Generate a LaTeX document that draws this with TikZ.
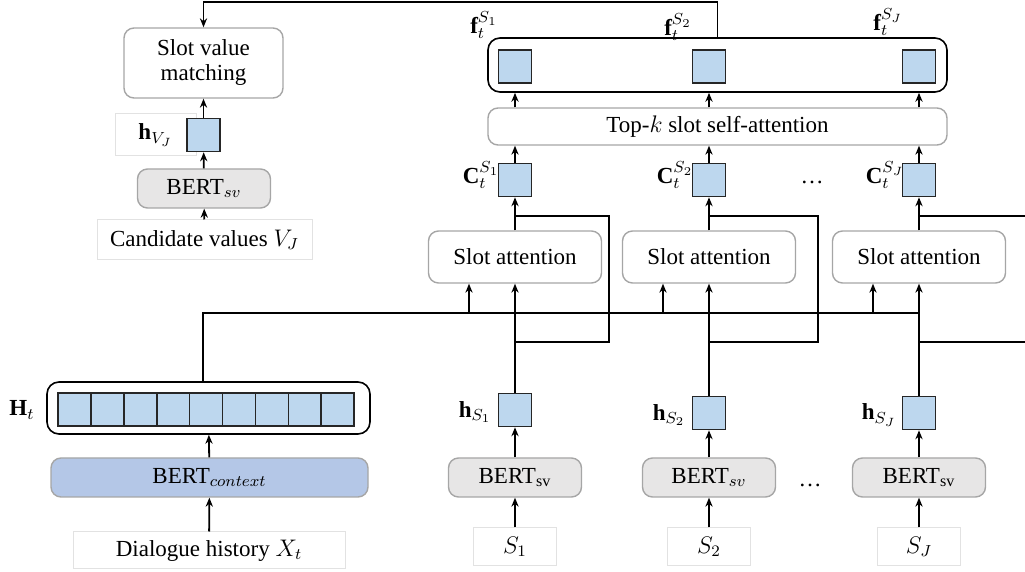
\documentclass[tikz,border=0pt]{standalone}
\usepackage{fontspec}
\setmainfont{Liberation Serif}
\usetikzlibrary{arrows.meta}
\definecolor{cellblue}{HTML}{BDD7EE}
\definecolor{ctxblue}{HTML}{B4C7E7}
\definecolor{svgray}{HTML}{E7E6E6}
\definecolor{edgegray}{HTML}{A6A6A6}
\definecolor{faintgray}{HTML}{E2E2E2}

\begin{document}
\begin{tikzpicture}[x=0.5pt, y=-0.5pt, >={Stealth[length=4.5pt,width=3.6pt]},
		font=\fontsize{11.5}{12.5}\selectfont, line width=0.9pt,
		vec node/.style={draw=black!85, fill=cellblue, minimum size=16.5pt, inner sep=0pt, line width=0.8pt},
		soft node/.style={draw=edgegray, rounded corners=5pt, fill=white, inner sep=0pt, align=center, line width=0.7pt},
		bert node/.style={soft node, fill=svgray, minimum width=66.5pt, minimum height=19.5pt},
		input node/.style={draw=faintgray, line width=0.5pt, inner sep=0pt},
		group node/.style={draw=black, rounded corners=6pt, inner sep=0pt, line width=0.8pt}]

		\useasboundingbox (0,0) rectangle (1025,572);

		% value side
		\node[soft node, minimum width=79.5pt, minimum height=35pt] (svm) at (203.5,63) {Slot value\\matching};
		\node[input node, minimum width=40.5pt, minimum height=21pt] (hvlab) at (155.5,135) {$\mathbf{h}_{V_J}$};
		\node[vec node] (hv) at (203.5,135) {};
		\node[bert node] (bertv) at (204,188.5) {BERT$_{sv}$};
		\node[input node, minimum width=107.5pt, minimum height=20pt] (cand) at (204.5,240) {Candidate values $V_J$};

		% context side
		\node[group node, minimum width=161.5pt, minimum height=26pt] (Hbox) at (208.5,408) {};
		\foreach \i in {0,...,8}
			\node[vec node, minimum width=16.45pt] (cell\i) at ({74.45+32.9*\i},409.5) {};
		\node (Hlab) at (22,410) {$\mathbf{H}_t$};
		\node[soft node, fill=ctxblue, minimum width=158.5pt, minimum height=19.5pt] (bertc) at (209.5,477.5) {BERT$_{context}$};
		\node[input node, minimum width=136pt, minimum height=18.5pt] (dh) at (209,550.5) {Dialogue history $X_t$};

		% slot side
		\node[group node, minimum width=229.5pt, minimum height=27pt] (fbox) at (717.5,65) {};
		\node[soft node, minimum width=229.5pt, minimum height=18.5pt] (sat) at (717.5,126.5) {Top-$k$ slot self-attention};
		\node (dotsc) at (812,182) {\dots};
		\node (dotsb) at (810,485) {\dots};

		\coordinate (top) at (717.5,2);
		\coordinate (bus) at (203,313);

		% last branch runs off the page edge
		\foreach \n/\x/\hy/\bx/\fy/\sv in {1/515/410/609/25/\textsubscript{sv}, 2/709/413/818/27/$_{sv}$, J/919/413/1040/22/\textsubscript{sv}} {
			\node[vec node] (f\n) at (\x,66.5) {};
			\node (flab\n) at ({\x-31},\fy) {$\mathbf{f}_t^{S_{\n}}$};
			\node[vec node] (c\n) at (\x,180) {};
			\node (clab\n) at ({\x-34},175) {$\mathbf{C}_t^{S_{\n}}$};
			\node[soft node, minimum width=86.5pt, minimum height=26pt] (sa\n) at (\x,257) {Slot attention};
			\node[vec node] (h\n) at (\x,\hy) {};
			\node (hlab\n) at ({\x-40},{\hy+2}) {$\mathbf{h}_{S_{\n}}$};
			\node[bert node] (bert\n) at (\x,477.5) {BERT\sv};
			\node[input node, minimum width=41.5pt, minimum height=19pt] (s\n) at (\x,547) {$S_{\n}$};
			\coordinate (lo\n) at (\x,342);
			\coordinate (hi\n) at (\x,216);

			\draw[->] (s\n) -- (bert\n);
			\draw[->] (bert\n) -- (h\n);
			\draw[->] (h\n) -- (sa\n);
			\draw (lo\n) -| (\bx,216) -- (hi\n);
			\draw[->] ([xshift=-23pt]sa\n.south |- bus) -- ([xshift=-23pt]sa\n.south);
			\draw[->] (sa\n) -- (c\n);
			\draw[->] (c\n) -- (c\n |- sat.south);
			\draw[->] (f\n |- sat.north) -- (f\n |- fbox.south);
		}

		\draw[->] (cand) -- (bertv);
		\draw[->] (bertv) -- (hv);
		\draw[->] (hv) -- (svm);
		\draw[->] (dh) -- (bertc);
		\draw[->] (bertc) -- (Hbox);
		\draw (Hbox.north -| bus) -- (bus) -- (hJ |- bus);
		\draw[->] (fbox.north) -- (top) -| (svm.north);
\end{tikzpicture}
\end{document}
